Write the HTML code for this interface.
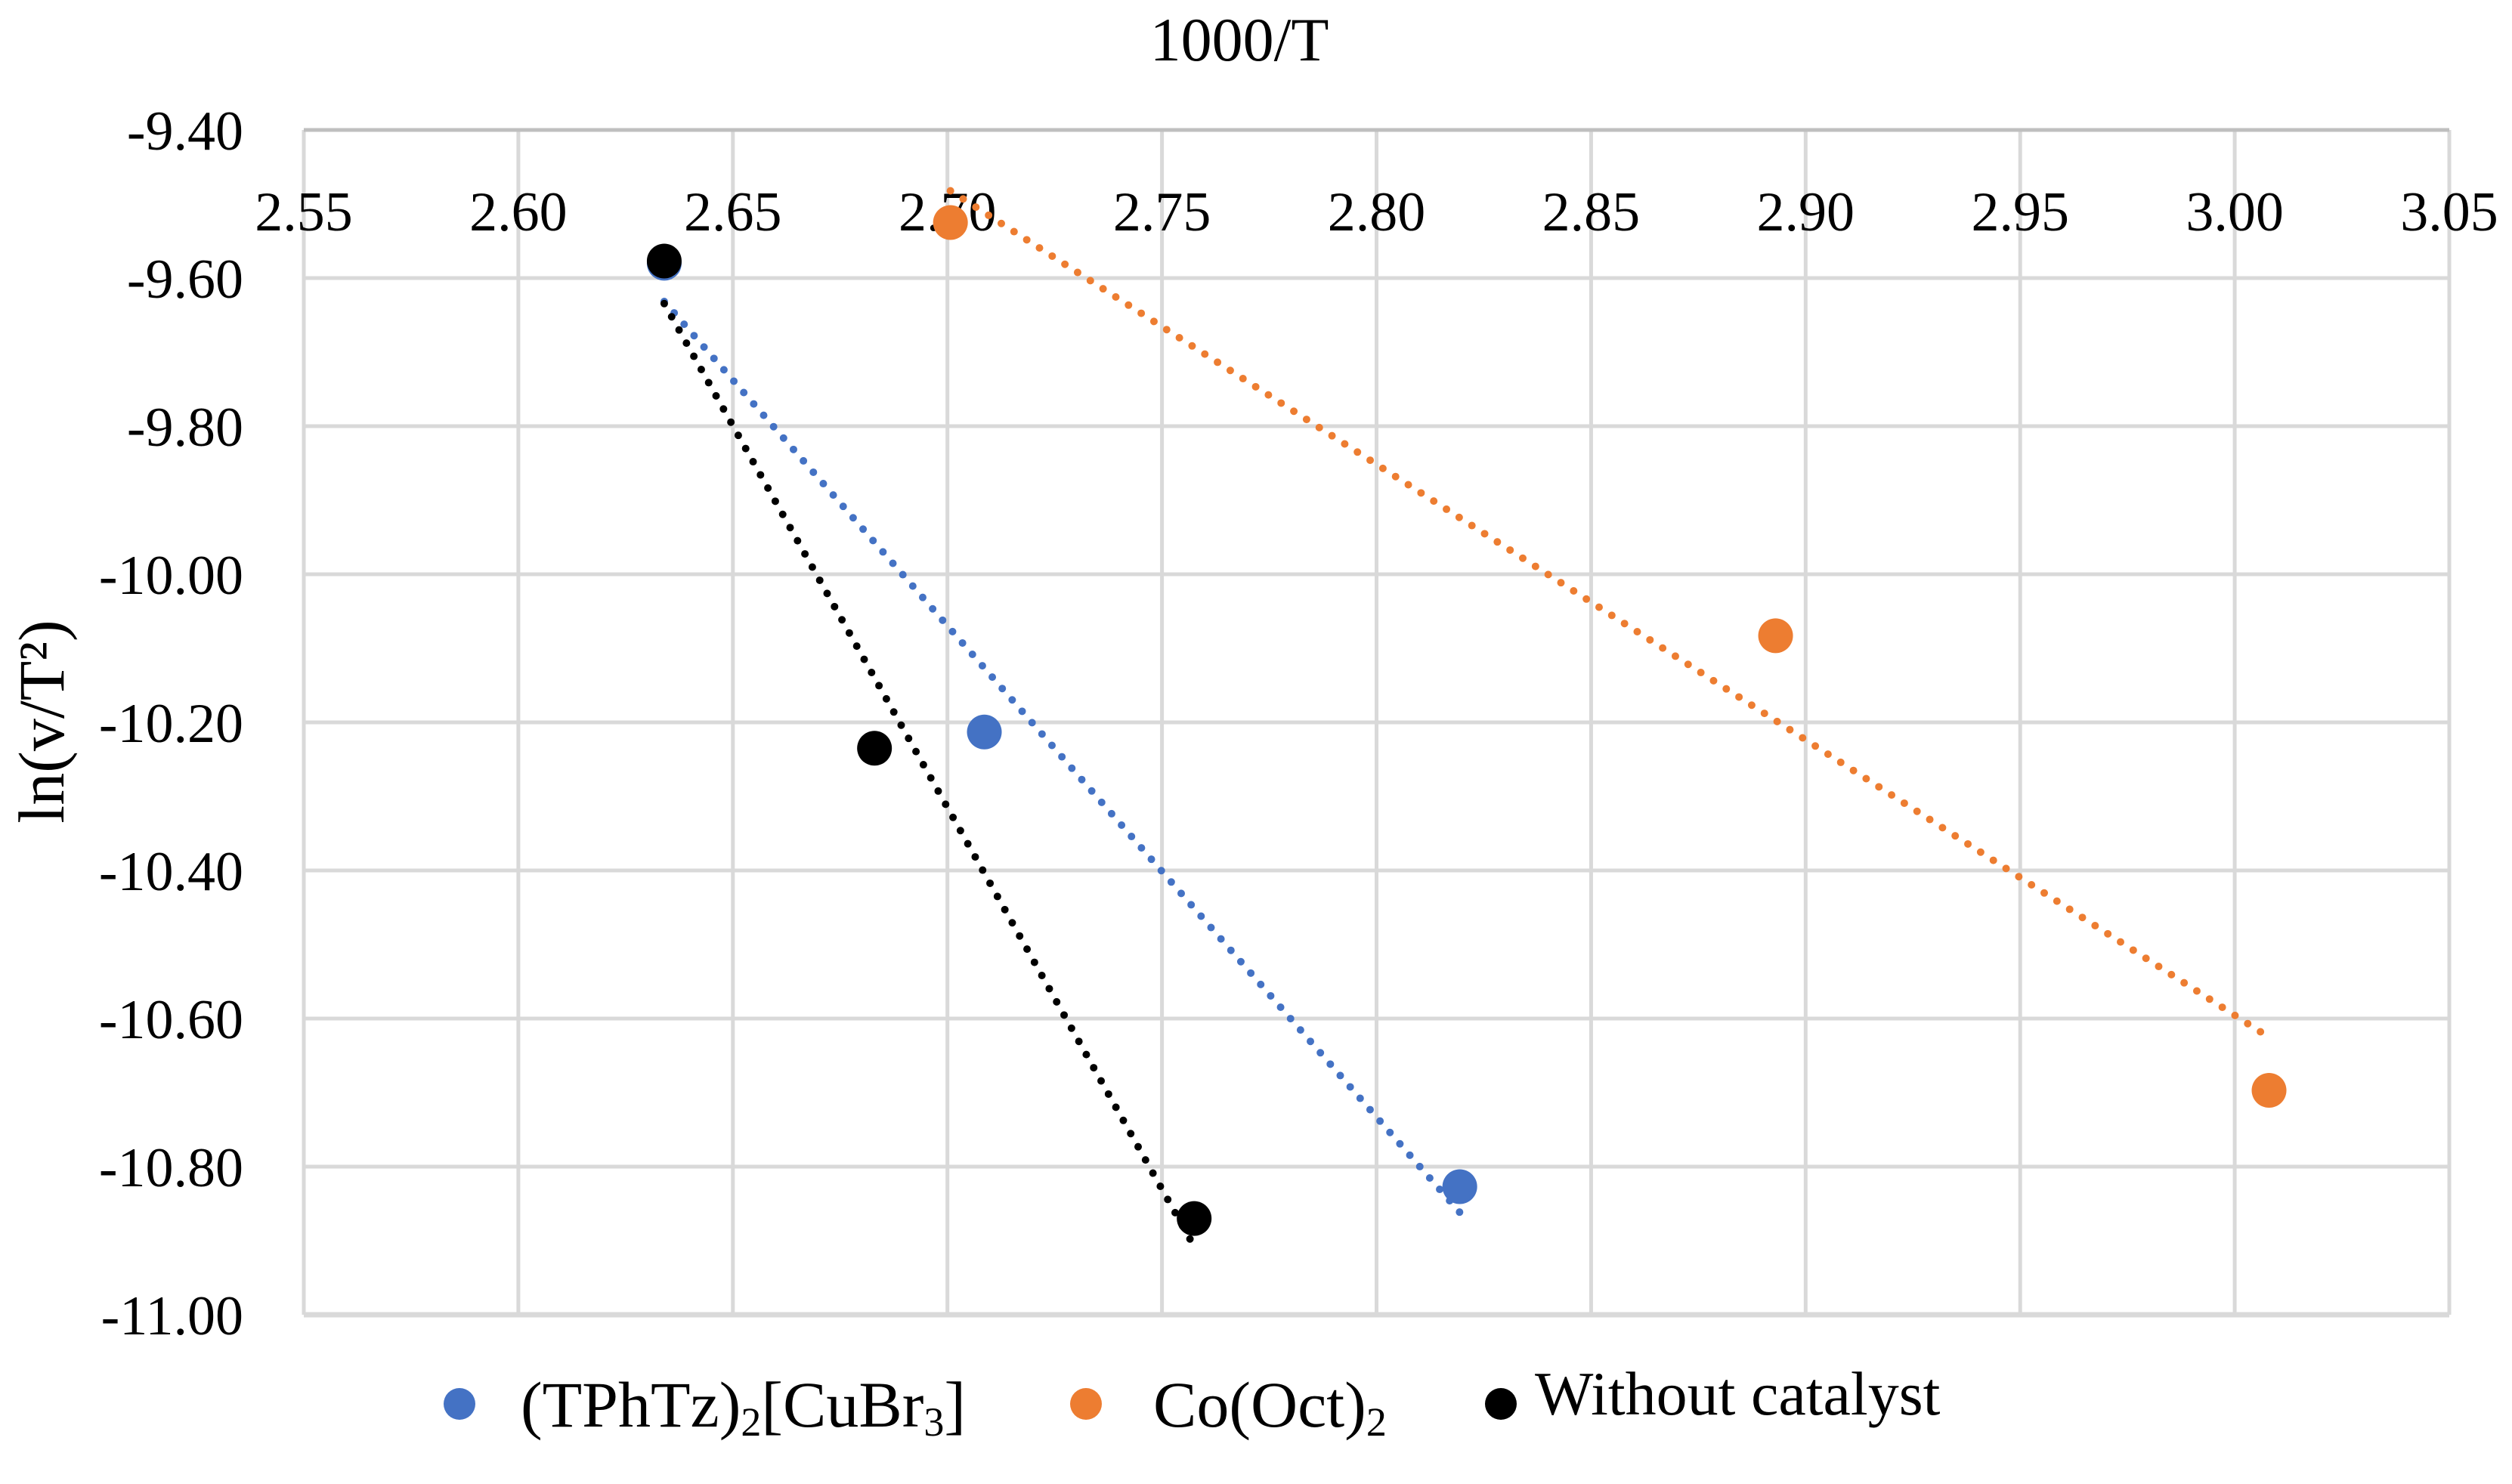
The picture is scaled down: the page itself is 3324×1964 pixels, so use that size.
<!DOCTYPE html>
<html><head><meta charset="utf-8"><style>
html,body{margin:0;padding:0;background:#fff}
svg{display:block;font-family:"Liberation Serif",serif}
</style></head><body>
<svg id="chart" width="3324" height="1964" viewBox="0 0 3324 1964" xmlns="http://www.w3.org/2000/svg">
<g id="grid"></g>
<g id="marks"></g>
<text x="1640" y="80" font-size="82" text-anchor="middle">1000/T</text>
<text transform="translate(84,955) rotate(-90)" font-size="86" text-anchor="middle">ln(v/T²)</text>
<g>
<g>
<circle cx="608" cy="1858" r="21" fill="#4472c4"/>
<text x="689" y="1888" font-size="86">(TPhTz)<tspan font-size="54" dy="12">2</tspan><tspan dy="-12">[CuBr</tspan><tspan font-size="54" dy="12">3</tspan><tspan dy="-12">]</tspan></text>
</g>
<g>
<circle cx="1437" cy="1858" r="21" fill="#ed7d31"/>
<text x="1526" y="1888" font-size="86">Co(Oct)<tspan font-size="54" dy="12">2</tspan></text>
</g>
<g>
<circle cx="1986" cy="1858" r="21" fill="#000"/>
<text x="2031" y="1872" font-size="82">Without catalyst</text>
</g>
</g>
</svg>
<script>
const xTicks=[2.55,2.60,2.65,2.70,2.75,2.80,2.85,2.90,2.95,3.00,3.05];
const yTicks=[-9.40,-9.60,-9.80,-10.00,-10.20,-10.40,-10.60,-10.80,-11.00];
const cuX=[2.634,2.7086,2.8194];
const cuY=[-9.58,-10.213,-10.827];
const coX=[2.7007,2.893,3.008];
const coY=[-9.525,-10.083,-10.697];
const noX=[2.634,2.683,2.7575];
const noY=[-9.577,-10.235,-10.870];
const L=402,R=3241,T=172,B=1740;
const xMin=2.55,xMax=3.05,yMax=-9.4,yMin=-11.0;
function sx(v){return L+(v-xMin)/(xMax-xMin)*(R-L);}
function sy(v){return T+(yMax-v)/(yMax-yMin)*(B-T);}
const NS="http://www.w3.org/2000/svg";
function mk(tag,attrs,parent){const e=document.createElementNS(NS,tag);for(const k in attrs)e.setAttribute(k,attrs[k]);parent.appendChild(e);return e;}
const grid=document.getElementById('grid'),marks=document.getElementById('marks');
xTicks.forEach((v,i)=>{
 const l=mk('line',{x1:sx(v),x2:sx(v),y1:T,y2:B,stroke:'#d9d9d9','stroke-width':5},grid);
 
 
 const t=mk('text',{x:sx(v),y:305,'font-size':74,'text-anchor':'middle'},grid);
 t.textContent=v.toFixed(2);
 
 
});
yTicks.forEach((v,i)=>{
 const l=mk('line',{x1:L,x2:R,y1:sy(v),y2:sy(v),stroke:(i==0?'#bfbfbf':'#d9d9d9'),'stroke-width':(i==yTicks.length-1?7:5)},grid);
 
 
 const t=mk('text',{x:322,y:sy(v)+26,'font-size':74,'text-anchor':'end'},grid);
 t.textContent=v.toFixed(2);
 
 
});
function fit(xs,ys){const n=xs.length;let mx=0,my=0;xs.forEach((x,i)=>{mx+=x;my+=ys[i];});mx/=n;my/=n;let a=0,b=0;xs.forEach((x,i)=>{a+=(x-mx)*(ys[i]-my);b+=(x-mx)*(x-mx);});const s=a/b;return [s,my-s*mx];}
function series(xs,ys,color,name){
 const [s,c]=fit(xs,ys);const x0=Math.min(...xs),x1=Math.max(...xs);
 const tl=mk('line',{x1:sx(x0),y1:sy(s*x0+c),x2:sx(x1),y2:sy(s*x1+c),stroke:color,'stroke-width':10,'stroke-linecap':'round','stroke-dasharray':'0 20'},marks);
 
 
 xs.forEach((x,i)=>{
  const p=mk('circle',{cx:sx(x),cy:sy(ys[i]),r:23,fill:color},marks);
  
  
 });
}
series(cuX,cuY,'#4472c4','cubr3');
series(coX,coY,'#ed7d31','cooct2');
series(noX,noY,'#000000','without-catalyst');
</script>
</body></html>
